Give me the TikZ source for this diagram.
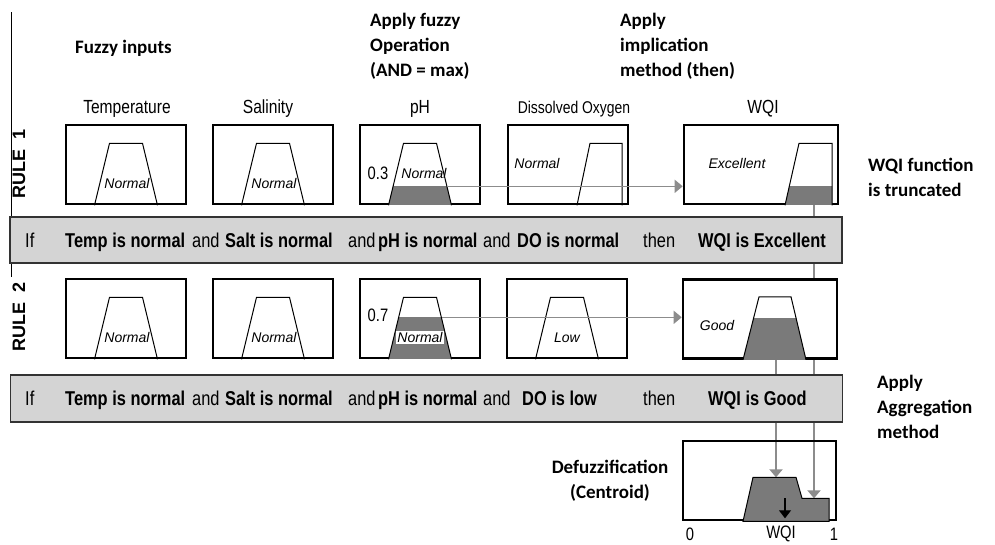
\documentclass[tikz,border=0pt]{standalone}
\usepackage{fontspec}
\setmainfont{Liberation Sans}
\newfontfamily\narrowsans{Liberation Sans}[FakeStretch=0.82]
\newfontfamily\titlefont{Carlito}
\usepackage{tikz}
\usetikzlibrary{arrows.meta,backgrounds,calc}
\definecolor{band}{HTML}{D4D4D4}
\definecolor{cut}{HTML}{7A7A7A}
\definecolor{link}{HTML}{8C8C8C}
\tikzset{
  mfbox/.style={draw=black,line width=2.6pt,fill=white,minimum width=120pt,minimum height=79pt,inner sep=0pt},
  wqibox/.style={mfbox,minimum width=154pt},
  dfzbox/.style={mfbox,fill=none,minimum width=153pt},
  rulebar/.style={draw=black!80,line width=1.6pt,fill=band,minimum width=832pt,minimum height=46pt,inner sep=0pt},
  mf/.style={draw=black,line width=1pt},
  term/.style={font=\itshape\fontsize{14}{14}\selectfont,inner sep=1pt},
  head/.style={font=\narrowsans\fontsize{19}{19}\selectfont,anchor=base,inner sep=0pt},
  txt/.style={font=\narrowsans\fontsize{20}{20}\selectfont,anchor=base west,inner sep=0pt},
  bld/.style={txt,font=\narrowsans\bfseries\fontsize{20}{20}\selectfont},
  note/.style={font=\titlefont\bfseries\fontsize{19}{25}\selectfont,align=left,anchor=north west,inner sep=0pt},
  rulelbl/.style={font=\bfseries\fontsize{18}{18}\selectfont,rotate=90,inner sep=0pt},
  num/.style={font=\narrowsans\fontsize{18}{18}\selectfont,inner sep=0pt},
  fire/.style={draw=link,line width=1.4pt,-{Triangle[length=8pt,width=13pt]}},
  agg/.style={draw=link,line width=2.4pt,-{Triangle[length=8pt,width=13pt]}},
  cgarr/.style={draw=black,line width=1.2pt,-{Triangle[length=8pt,width=12pt]}},
}

\begin{document}
\begin{tikzpicture}[x=1pt,y=-1pt]
\useasboundingbox (0,0) rectangle (995,544);
\draw[line width=0.8pt] (11,12) -- (11,277);

% stage titles
\node[note] (tin) at (75,40) {Fuzzy inputs};
\node[note] (top) at (370,13) {Apply fuzzy\\Operation\\(AND = max)};
\node[note] (timp) at (620,13) {Apply\\implication\\method (then)};
\node[note] (ttr) at (868,158) {WQI function\\is truncated};
\node[note] (tagg) at (877,375) {Apply\\Aggregation\\method};
\node[note,align=center,anchor=north] (tdfz) at (610,460) {Defuzzification\\(Centroid)};

% column heads
\node[head] (hT) at (127,113) {Temperature};
\node[head] (hS) at (268,113) {Salinity};
\node[head] (hP) at (420,113) {pH};
\node[head,font=\narrowsans\fontsize{17}{17}\selectfont] (hD) at (574,113) {Dissolved Oxygen};
\node[head] (hW) at (763,113) {WQI};

\node[rulelbl] (rule1) at (19,164) {RULE\ \ 1};
\node[rulelbl] (rule2) at (19,317) {RULE\ \ 2};

% membership boxes
\node[mfbox] (t1) at (126,164.5) {};
\node[mfbox] (s1) at (273,164.5) {};
\node[mfbox] (p1) at (420,164.5) {};
\node[mfbox] (d1) at (568,164.5) {};
\node[wqibox] (w1) at (761,164.5) {};
\node[mfbox] (t2) at (126,318.5) {};
\node[mfbox] (s2) at (273,318.5) {};
\node[mfbox] (p2) at (420,318.5) {};
\node[mfbox] (d2) at (567,318.5) {};
\node[wqibox] (w2) at (760,319) {};
\node[dfzbox] (dfz) at (759.5,480.5) {};

% rule bars
\node[rulebar] (r1) at (426,240) {};
\node[rulebar,minimum height=47pt] (r2) at (426.5,398.5) {};

% truncated parts
\begin{scope}
  \clip ($(p1.south)+(-31.5,0)$) -- ++(15,-62) -- ++(33,0) -- ++(15,62) -- cycle;
  \fill[cut] ($(p1.south)+(-35,-19)$) rectangle ($(p1.south)+(35,0)$);
\end{scope}
\begin{scope}
  \clip ($(p2.south)+(-31.5,0)$) -- ++(15,-62) -- ++(33,0) -- ++(15,62) -- cycle;
  \fill[cut] ($(p2.south)+(-35,-42)$) rectangle ($(p2.south)+(35,0)$);
\end{scope}
\begin{scope}
  \clip ($(w1.south)+(24,0)$) -- ++(14,-62) -- ++(33,0) -- ++(0,62) -- cycle;
  \fill[cut] ($(w1.south)+(20,-19)$) rectangle ($(w1.south)+(75,0)$);
\end{scope}
\begin{scope}
  \clip ($(w2.south)+(-17,0)$) -- ++(16,-63) -- ++(32,0) -- ++(15,63) -- cycle;
  \fill[cut] ($(w2.south)+(-20,-42)$) rectangle ($(w2.south)+(50,0)$);
\end{scope}

% membership functions
\foreach \b in {t1,s1,p1,t2,s2,p2,d2}
  \draw[mf] ($(\b.south)+(-31.5,0)$) -- ++(15,-62) -- ++(33,0) -- ++(15,62);
\draw[mf] ($(d1.south)+(9,0)$) -- ++(13,-62) -- ++(32,0) -- ++(0,62);
\draw[mf] ($(w1.south)+(24,0)$) -- ++(14,-62) -- ++(33,0) -- ++(0,62);
\draw[mf] ($(w2.south)+(-17,0)$) -- ++(16,-63) -- ++(32,0) -- ++(15,63);
\draw[mf,fill=cut] ($(dfz.south)+(-16.5,0)$) -- ++(10,-44) -- ++(43,0) -- ++(6,21) -- ++(27,0) -- ++(0,23) -- cycle;

% term labels
\node[term] (nt1) at ($(t1)+(1,19)$) {Normal};
\node[term] (ns1) at ($(s1)+(1,19)$) {Normal};
\node[term] (np1) at ($(p1)+(4,8.5)$) {Normal};
\node[term] (nd1) at ($(d1)+(-31,-1.5)$) {Normal};
\node[term] (nw1) at ($(w1)+(-24,-1.5)$) {Excellent};
\node[term] (nt2) at ($(t2)+(1,19)$) {Normal};
\node[term] (ns2) at ($(s2)+(1,19)$) {Normal};
\node[term,fill=white] (np2) at ($(p2)+(0,19)$) {Normal};
\node[term] (nd2) at ($(d2)+(0,19)$) {Low};
\node[term] (nw2) at ($(w2)+(-43,6)$) {Good};
\node[num] (v1) at ($(p1)+(-42,8.5)$) {0.3};
\node[num] (v2) at ($(p2)+(-42,-3.5)$) {0.7};

% firing strength to consequent
\coordinate (c1) at ($(p1.south)+(27,-19)$);
\coordinate (c2) at ($(p2.south)+(22,-42)$);
\draw[fire] (c1) -- (c1 -| w1.west);
\draw[fire] (c2) -- (c2 -| w2.west);

% aggregation
\coordinate (a1) at ($(w1.south)+(53,0)$);
\coordinate (a2) at ($(dfz.south)+(54.5,-23)$);
\coordinate (b1) at ($(w2.south)+(16,0)$);
\coordinate (b2) at ($(dfz.south)+(16.5,-44)$);
\begin{scope}[on background layer]
\draw[agg] (a1) -- (a2);
\draw[agg] (b1) -- (b2);
\end{scope}
\coordinate (cg) at ($(dfz.south)+(25.5,-23)$);
\coordinate (cg0) at ($(dfz.south)+(25.5,-3)$);
\draw[cgarr] (cg) -- (cg0);
\node[num] (ax0) at (690,534) {0};
\node[num] (axw) at (781,534) {WQI};
\node[num] (ax1) at (834,534) {1};

% rule text
\node[txt] (i1) at (25,247) {If};
\node[bld] (a1t) at (65,247) {Temp is normal};
\node[txt] (n1a) at (192,247) {and};
\node[bld] (b1t) at (225,247) {Salt is normal};
\node[txt] (n1b) at (348,247) {and};
\node[bld] (c1t) at (378,247) {pH is normal};
\node[txt] (n1c) at (483,247) {and};
\node[bld] (d1t) at (517,247) {DO is normal};
\node[txt] (th1) at (643,247) {then};
\node[bld] (e1t) at (698,247) {WQI is Excellent};
\node[txt] (i2) at (25,405) {If};
\node[bld] (a2t) at (65,405) {Temp is normal};
\node[txt] (n2a) at (192,405) {and};
\node[bld] (b2t) at (225,405) {Salt is normal};
\node[txt] (n2b) at (348,405) {and};
\node[bld] (c2t) at (378,405) {pH is normal};
\node[txt] (n2c) at (483,405) {and};
\node[bld] (d2t) at (522,405) {DO is low};
\node[txt] (th2) at (643,405) {then};
\node[bld] (e2t) at (708,405) {WQI is Good};
\end{tikzpicture}
\end{document}
